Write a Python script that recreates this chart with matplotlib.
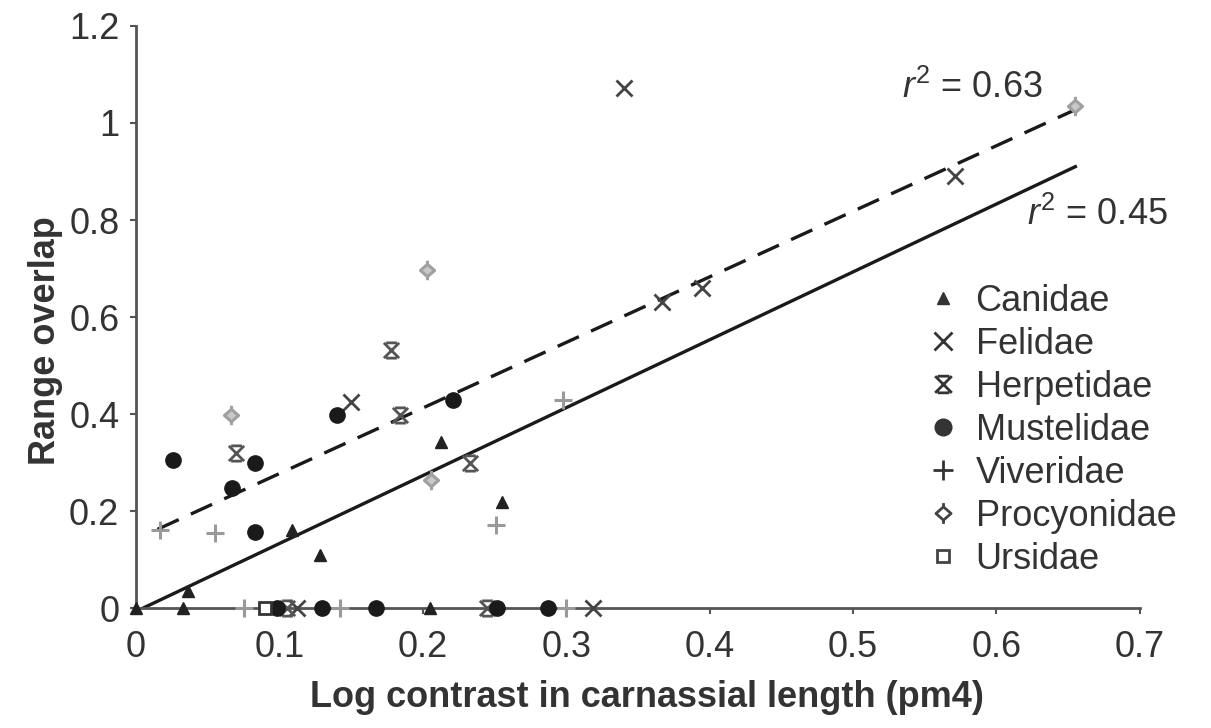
import matplotlib
matplotlib.use("Agg")
import matplotlib.pyplot as plt
from matplotlib.path import Path
from matplotlib.lines import Line2D
import numpy as np

# --- data: log contrast in carnassial length vs range overlap, per family ---
canidae_x = [0.0, 0.033, 0.036, 0.109, 0.128, 0.205, 0.213, 0.255]
canidae_y = [0.0, 0.0, 0.035, 0.161, 0.109, 0.0, 0.343, 0.219]

felidae_x = [0.112, 0.150, 0.340, 0.367, 0.395, 0.571, 0.319]
felidae_y = [0.0, 0.425, 1.072, 0.630, 0.660, 0.890, 0.0]

herpestidae_x = [0.070, 0.105, 0.178, 0.184, 0.233, 0.245]
herpestidae_y = [0.320, 0.0, 0.532, 0.398, 0.300, 0.0]

mustelidae_x = [0.026, 0.067, 0.083, 0.083, 0.140, 0.221, 0.098, 0.130, 0.167, 0.252, 0.287]
mustelidae_y = [0.305, 0.247, 0.299, 0.157, 0.398, 0.429, 0.0, 0.0, 0.0, 0.0, 0.0]

viverridae_x = [0.017, 0.055, 0.251, 0.298, 0.075, 0.142, 0.300]
viverridae_y = [0.160, 0.155, 0.171, 0.429, 0.0, 0.0, 0.0]

procyonidae_x = [0.066, 0.203, 0.206, 0.655]
procyonidae_y = [0.398, 0.697, 0.264, 1.035]

ursidae_x = [0.090]
ursidae_y = [0.0]

# regression lines (slope, intercept, x range)
fit_solid = (1.40, -0.007, [0.005, 0.655])   # r2 = 0.45
fit_dashed = (1.352, 0.142, [0.015, 0.655])  # r2 = 0.63

xticks = [0, 0.1, 0.2, 0.3, 0.4, 0.5, 0.6, 0.7]
xtick_labels = ["0", "0.1", "0.2", "0.3", "0.4", "0.5", "0.6", "0.7"]
yticks = [0, 0.2, 0.4, 0.6, 0.8, 1.0, 1.2]
ytick_labels = ["0", "0.2", "0.4", "0.6", "0.8", "1", "1.2"]

plt.rcParams["font.family"] = ["Liberation Sans", "DejaVu Sans"]
plt.rcParams["mathtext.fontset"] = "custom"
plt.rcParams["mathtext.rm"] = "Liberation Sans"
plt.rcParams["mathtext.it"] = "Liberation Sans:italic"

# X with top and bottom bars for the herpestids
herp_marker = Path(
    [(-1, -1), (1, 1), (-1, 1), (1, -1), (-0.7, 1), (0.7, 1), (-0.7, -1), (0.7, -1)],
    [Path.MOVETO, Path.LINETO] * 4,
)
# open diamond with short stems top and bottom for the procyonids
proc_marker = Path(
    [(0, 0.7), (0.8, 0), (0, -0.7), (-0.8, 0), (0, 0.7),
     (0, 0.7), (0, 1.1), (0, -0.7), (0, -1.1)],
    [Path.MOVETO, Path.LINETO, Path.LINETO, Path.LINETO, Path.CLOSEPOLY,
     Path.MOVETO, Path.LINETO, Path.MOVETO, Path.LINETO],
)

fig = plt.figure(figsize=(12.11, 7.28), dpi=100)
ax = fig.add_axes([0.1123, 0.1648, 0.829, 0.7995])

axis_col = "#555555"
text_col = "#333333"
fs = 26

# lines first so markers sit on top
for (slope, icpt, xr), ls in [(fit_solid, "-"), (fit_dashed, (0, (7, 4)))]:
    xs = np.array(xr)
    ax.plot(xs, icpt + slope * xs, color="#1a1a1a", lw=2.4, ls=ls, zorder=2)

styles = {
    "Canidae": dict(marker="^", ms=9, color="#222222", mfc="#222222", mew=1),
    "Felidae": dict(marker="x", ms=12, color="#444444", mew=2),
    "Herpetidae": dict(marker=herp_marker, ms=11, color="#555555", mew=2),
    "Mustelidae": dict(marker="o", ms=11, color="#1a1a1a", mfc="#1a1a1a"),
    "Viveridae": dict(marker="+", ms=13, color="#9a9a9a", mew=2.2),
    "Procyonidae": dict(marker=proc_marker, ms=14, color="#a0a0a0", mfc="#c8c8c8", mew=2.2),
    "Ursidae": dict(marker="s", ms=8, color="#333333", mfc="white", mew=2),
}
series = [
    ("Canidae", canidae_x, canidae_y),
    ("Felidae", felidae_x, felidae_y),
    ("Herpetidae", herpestidae_x, herpestidae_y),
    ("Mustelidae", mustelidae_x, mustelidae_y),
    ("Viveridae", viverridae_x, viverridae_y),
    ("Procyonidae", procyonidae_x, procyonidae_y),
    ("Ursidae", ursidae_x, ursidae_y),
]
for name, xs, ys in series:
    ax.plot(xs, ys, ls="none", clip_on=False, zorder=3, **styles[name])

# legend uses dark markers for every family
legend_styles = {
    "Canidae": dict(marker="^", ms=9, color="#333333"),
    "Felidae": dict(marker="x", ms=13, color="#333333", mew=2),
    "Herpetidae": dict(marker=herp_marker, ms=12, color="#333333", mew=2),
    "Mustelidae": dict(marker="o", ms=12, color="#333333"),
    "Viveridae": dict(marker="+", ms=15, color="#333333", mew=2),
    "Procyonidae": dict(marker=proc_marker, ms=15, color="#444444", mfc="white", mew=2),
    "Ursidae": dict(marker="s", ms=9, color="#444444", mfc="white", mew=2),
}
handles = [Line2D([], [], ls="none", **legend_styles[n]) for n, _, _ in series]
labels = [n for n, _, _ in series]
ax.legend(handles, labels, loc="upper left", frameon=False,
          bbox_to_anchor=(925 / 1211, 1 - 284 / 728), bbox_transform=fig.transFigure,
          borderpad=0, borderaxespad=0, handlelength=1.0, handletextpad=0.4,
          labelspacing=0.22, fontsize=fs, labelcolor=text_col)

ax.text(0.583, 1.072, r"$r^2$ = 0.63", fontsize=fs, color=text_col, ha="center", va="center")
ax.text(0.670, 0.81, r"$r^2$ = 0.45", fontsize=fs, color=text_col, ha="center", va="center")

ax.set_xlim(0, 0.7)
ax.set_ylim(0, 1.2)
ax.set_xticks(xticks)
ax.set_xticklabels(xtick_labels)
ax.set_yticks(yticks)
ax.set_yticklabels(ytick_labels)

for side in ["top", "right"]:
    ax.spines[side].set_visible(False)
for side in ["left", "bottom"]:
    ax.spines[side].set_color(axis_col)
    ax.spines[side].set_linewidth(2)

ax.tick_params(axis="both", colors=axis_col, labelcolor=text_col, labelsize=fs,
               length=4, width=1.5, direction="out")
ax.tick_params(axis="x", pad=12)
ax.tick_params(axis="y", pad=8)

ax.set_xlabel("Log contrast in carnassial length (pm4)", fontsize=fs, fontweight="bold",
              color=text_col)
ax.xaxis.set_label_coords(0.509, -0.153)
ax.xaxis.label.set_va("center")
ax.set_ylabel("Range overlap", fontsize=fs, fontweight="bold", color=text_col)
ax.yaxis.set_label_coords(-0.0906, 0.46)
ax.yaxis.label.set_va("center")

fig.savefig("out.png", dpi=100, facecolor="white")
